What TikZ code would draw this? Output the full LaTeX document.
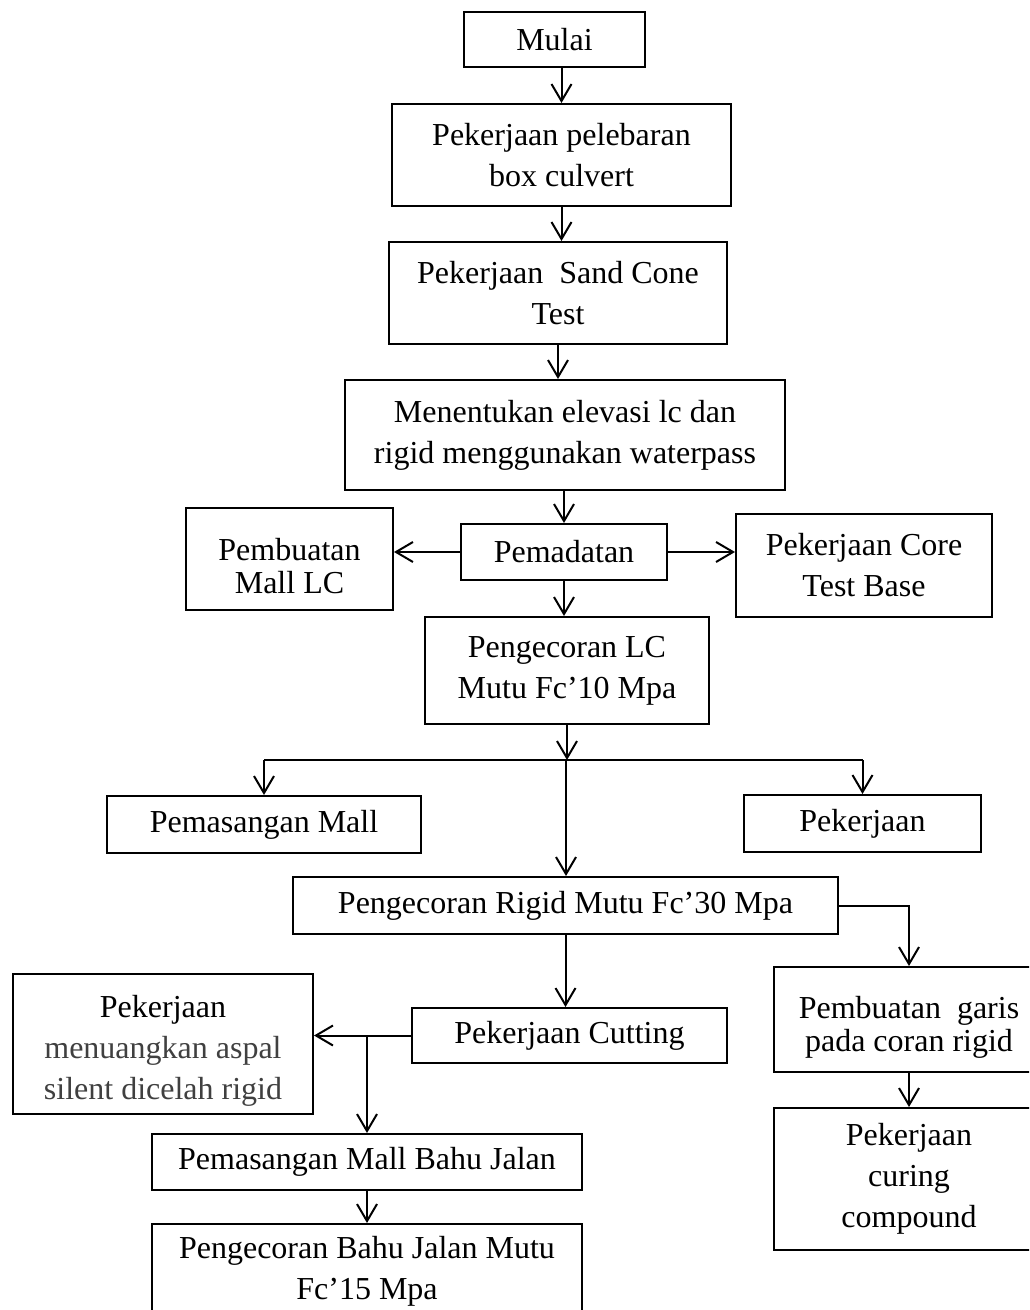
\documentclass[tikz,border=0pt]{standalone}
\usepackage{fontspec}
\setmainfont{Liberation Serif}
\usetikzlibrary{arrows.meta}
\definecolor{grayi}{RGB}{64,64,64}
\tikzset{
      mybox/.style 2 args={
        draw=black,
        line width=1pt,
        align=center,
        inner sep=0pt,
        font=\fontsize{16}{20.5}\selectfont,
        minimum width=#1,
        minimum height=#2
      },
      mytight/.style={
        font=\fontsize{16}{16.5}\selectfont
      },
      myarrow/.style={
        line width=1pt,
        -{Straight Barb[length=8.5pt,width=10pt]}
      },
      myline/.style={
        line width=1pt
      },
    }
\begin{document}
\begin{tikzpicture}[x=0.5pt,y=-0.5pt]
            \useasboundingbox (0,0) rectangle (1029,1310);
            \clip (0,0) rectangle (1029,1310);

            %Alur utama
            \node[mybox={90.5pt}{27.5pt}] (mulai) at (554.5,39.5) {Mulai};
            \node[mybox={169.5pt}{51pt}] (pelebaran) at (561.5,155)
              {Pekerjaan pelebaran\\box culvert};
            \node[mybox={169pt}{51pt}] (sandcone) at (558,293)
              {Pekerjaan~ Sand Cone\\Test};
            \node[mybox={220pt}{55pt}] (elevasi) at (565,435)
              {Menentukan elevasi lc dan\\rigid menggunakan waterpass};
            \node[mybox={103pt}{28pt}] (pemadatan) at (564,552) {Pemadatan};
            \node[mybox={142pt}{53.5pt}] (lc) at (567,670.5)
              {Pengecoran LC\\Mutu Fc’10 Mpa};

            %Cabang pemadatan
            \node[mybox={103.5pt}{51pt},mytight] (mallLC) at (289.5,559)
              {\rule{0pt}{18pt}Pembuatan\\Mall LC};
            \node[mybox={128pt}{51.5pt}] (coretest) at (864,565.5)
              {Pekerjaan Core\\Test Base};

            %Cabang LC
            \node[mybox={157pt}{28.5pt}] (pasangmall) at (264,824.5) {Pemasangan Mall};
            \node[mybox={118.5pt}{28.5pt}] (pekerjaan) at (862.5,823.5) {Pekerjaan};
            \node[mybox={272.5pt}{28.5pt}] (rigid) at (565.5,905.5)
              {Pengecoran Rigid Mutu Fc’30 Mpa};

            %Cabang rigid
            \node[mybox={135pt}{52.5pt},mytight] (garis) at (909,1019.5)
              {\rule{0pt}{19pt}Pembuatan~ garis\\pada coran rigid};
            \node[mybox={135pt}{71pt}] (curing) at (909,1179)
              {Pekerjaan\\curing\\compound};
            \node[mybox={157.5pt}{27.5pt}] (cutting) at (569.5,1035.5)
              {Pekerjaan Cutting};
            \node[mybox={150pt}{70pt}] (aspal) at (163,1044)
              {\rule{0pt}{18pt}Pekerjaan\\\textcolor{grayi}{menuangkan aspal}\\\textcolor{grayi}{silent dicelah rigid}};
            \node[mybox={215pt}{28pt}] (bahumall) at (367,1162)
              {Pemasangan Mall Bahu Jalan};
            \node[mybox={215pt}{47pt}] (bahucor) at (367,1271)
              {Pengecoran Bahu Jalan Mutu\\Fc’15 Mpa};

            \coordinate (split1) at (566,760);
            \coordinate (split2) at (cutting.west -| bahumall.north);

            \draw [myarrow] (mulai.south -| pelebaran.north) -- (pelebaran.north);
            \draw [myarrow] (pelebaran.south) -- (pelebaran.south |- sandcone.north);
            \draw [myarrow] (sandcone.south) -- (sandcone.south |- elevasi.north);
            \draw [myarrow] (elevasi.south -| pemadatan.north) -- (pemadatan.north);
            \draw [myarrow] (pemadatan.west) -- (pemadatan.west -| mallLC.east);
            \draw [myarrow] (pemadatan.east) -- (pemadatan.east -| coretest.west);
            \draw [myarrow] (pemadatan.south) -- (pemadatan.south |- lc.north);
            \draw [myarrow] (lc.south) -- (lc.south |- split1);
            \draw [myline] (split1 -| pasangmall.north) -- (split1 -| pekerjaan.north);
            \draw [myarrow] (split1 -| pasangmall.north) -- (pasangmall.north);
            \draw [myarrow] (split1 -| pekerjaan.north) -- (pekerjaan.north);
            \draw [myarrow] (split1) -- (split1 |- rigid.north);
            \draw [myarrow] (rigid.east) -| (garis.north);
            \draw [myarrow] (garis.south) -- (curing.north);
            \draw [myarrow] (rigid.south) -- (rigid.south |- cutting.north);
            \draw [myarrow] (cutting.west) -- (cutting.west -| aspal.east);
            \draw [myarrow] (split2) -- (bahumall.north);
            \draw [myarrow] (bahumall.south) -- (bahucor.north);

          \end{tikzpicture}
\end{document}
